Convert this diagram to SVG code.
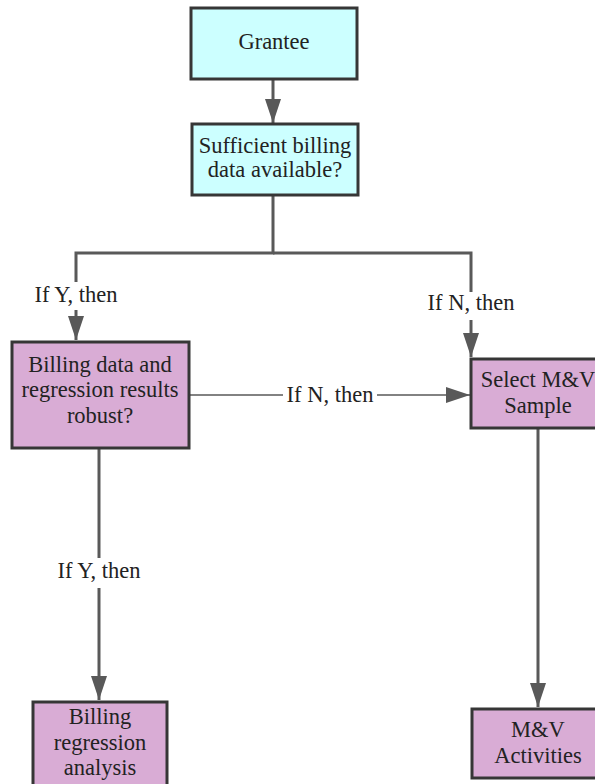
<svg xmlns="http://www.w3.org/2000/svg" width="595" height="784" viewBox="0 0 595 784">
<style>
.box{stroke:#363636;stroke-width:3}
.cyan{fill:#ccffff}
.pink{fill:#d9acd5}
.c{fill:none;stroke:#595959;stroke-width:3}
.thin{fill:none;stroke:#595959;stroke-width:1.5}
</style>
<defs>
<marker id="ah" markerUnits="userSpaceOnUse" markerWidth="24" markerHeight="16" refX="24" refY="8" orient="auto">
<path d="M0,0 L24,8 L0,16 z" fill="#595959"/>
</marker>
</defs>
<rect width="595" height="784" fill="#ffffff"/>
<g font-family="Liberation Serif, Times New Roman, serif" font-size="22.5" fill="#222222" text-anchor="middle">
<g id="connectors">
<line class="c" x1="273" y1="79" x2="273" y2="123" marker-end="url(#ah)"/>
<path class="c" d="M273,195 V253 H76 V282"/>
<path class="c" d="M76,310 V340" marker-end="url(#ah)"/>
<text x="76" y="302">If Y, then</text>
<path class="c" d="M273,253 H471 V292"/>
<path class="c" d="M471,320 V357" marker-end="url(#ah)"/>
<text x="471" y="310">If N, then</text>
<line class="thin" x1="189" y1="395" x2="283" y2="395"/>
<text x="330" y="402">If N, then</text>
<line class="thin" x1="377" y1="395" x2="470" y2="395" marker-end="url(#ah)"/>
<line class="c" x1="99" y1="448" x2="99" y2="558"/>
<text x="99" y="578">If Y, then</text>
<line class="c" x1="99" y1="588" x2="99" y2="700" marker-end="url(#ah)"/>
<line class="c" x1="538" y1="428" x2="538" y2="707" marker-end="url(#ah)"/>
</g>
<g id="grantee">
<rect class="box cyan" x="191" y="8" width="166" height="71"/>
<text x="274" y="49">Grantee</text>
</g>
<g id="sufficient">
<rect class="box cyan" x="192" y="124" width="166" height="71"/>
<text x="275" y="153">Sufficient billing</text>
<text x="275" y="177">data available?</text>
</g>
<g id="robust">
<rect class="box pink" x="12" y="342" width="177" height="106"/>
<text x="100" y="372">Billing data and</text>
<text x="100" y="397">regression results</text>
<text x="100" y="423">robust?</text>
</g>
<g id="select">
<rect class="box pink" x="471" y="359" width="135" height="69"/>
<text x="538" y="387">Select M&amp;V</text>
<text x="538" y="413">Sample</text>
</g>
<g id="regression">
<rect class="box pink" x="33" y="702" width="134" height="95"/>
<text x="100" y="724">Billing</text>
<text x="100" y="750">regression</text>
<text x="100" y="775">analysis</text>
</g>
<g id="activities">
<rect class="box pink" x="472" y="709" width="134" height="69"/>
<text x="538" y="737">M&amp;V</text>
<text x="538" y="763">Activities</text>
</g>
</g>
</svg>
